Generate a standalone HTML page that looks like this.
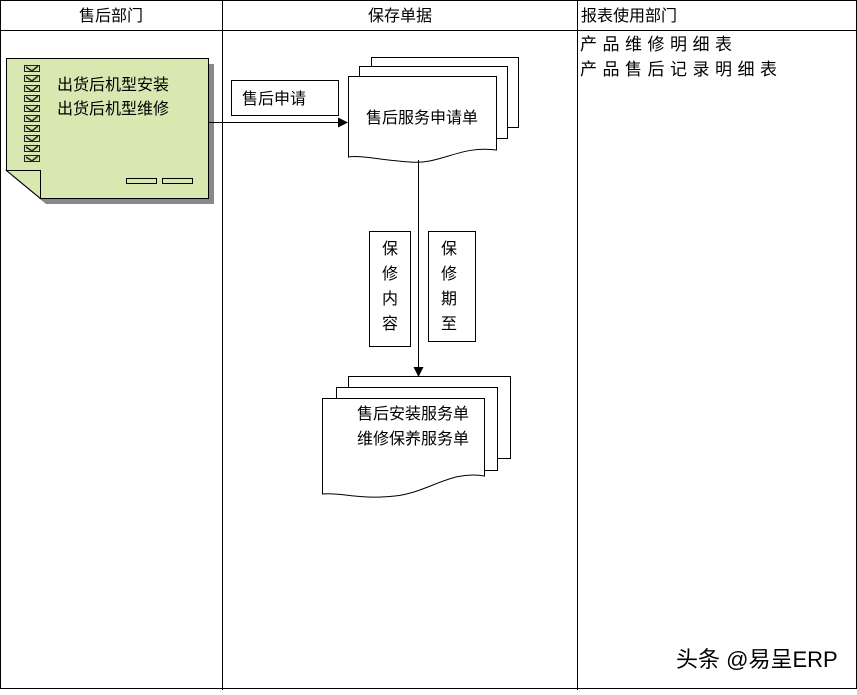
<!DOCTYPE html>
<html><head><meta charset="utf-8"><style>
body{margin:0;background:#fff}
text{font-family:"Liberation Sans","Noto Sans CJK SC",sans-serif;fill:#000}
</style></head><body>
<svg width="857" height="690" viewBox="0 0 857 690" xmlns="http://www.w3.org/2000/svg">
<defs><marker id="a" markerWidth="10" markerHeight="10" refX="9" refY="5" orient="auto" markerUnits="userSpaceOnUse"><path d="M0,0 L10,5 L0,10 z" fill="#000"/></marker>
<g id="c"><rect x="0.5" y="0.5" width="15" height="6" fill="#cfe0a8" stroke="#222"/><path d="M2,2 L8,6 L14,1" stroke="#222" stroke-width="1.5" fill="none"/></g></defs>
<rect x="0.5" y="0.5" width="856" height="688" fill="none" stroke="#000"/>
<line x1="0" y1="30.5" x2="857" y2="30.5" stroke="#000"/>
<line x1="222.5" y1="0" x2="222.5" y2="690" stroke="#000"/>
<line x1="577.5" y1="0" x2="577.5" y2="690" stroke="#000"/>
<text x="111" y="21" font-size="16" text-anchor="middle">售后部门</text>
<text x="400" y="21" font-size="16" text-anchor="middle">保存单据</text>
<text x="581" y="21" font-size="16">报表使用部门</text>
<text x="580" y="50" font-size="17" letter-spacing="5.5">产品维修明细表</text>
<text x="580" y="75" font-size="17" letter-spacing="5.5">产品售后记录明细表</text>
<!-- note card -->
<path d="M12,64 L214,64 L214,204 L46,204 L12,176 z" fill="#888"/>
<path d="M6.5,58.5 L208.5,58.5 L208.5,198.5 L40.5,198.5 L6.5,170.5 z" fill="#d8e8b0" stroke="#000"/>
<path d="M6.5,170.5 L40.5,170.5 L40.5,198.5 z" fill="#d8e8b0" stroke="#000"/>
<use href="#c" x="24" y="65"/><use href="#c" x="24" y="75"/><use href="#c" x="24" y="85"/><use href="#c" x="24" y="95"/><use href="#c" x="24" y="105"/><use href="#c" x="24" y="115"/><use href="#c" x="24" y="125"/><use href="#c" x="24" y="135"/><use href="#c" x="24" y="145"/><use href="#c" x="24" y="155"/>
<rect x="126.5" y="178.5" width="30" height="5" fill="none" stroke="#000"/>
<rect x="162.5" y="178.5" width="30" height="5" fill="none" stroke="#000"/>
<text x="57" y="90" font-size="16">出货后机型安装</text>
<text x="57" y="114" font-size="16">出货后机型维修</text>
<!-- arrow -->
<line x1="208" y1="122.5" x2="347" y2="122.5" stroke="#000" marker-end="url(#a)"/>
<rect x="231.5" y="80.5" width="107" height="35" fill="#fff" stroke="#000"/>
<text x="242" y="104" font-size="16">售后申请</text>
<!-- upper docs -->
<rect x="371.5" y="57.5" width="147" height="70" fill="#fff" stroke="#000"/>
<rect x="359.5" y="66.5" width="148" height="72" fill="#fff" stroke="#000"/>
<path d="M348.5,76.5 L496.5,76.5 L496.5,150 C460,145 440,165 410,162 C380,160 360,155 348.5,157 z" fill="#fff" stroke="#000"/>
<text x="422" y="123" font-size="16" text-anchor="middle">售后服务申请单</text>
<!-- vertical -->
<line x1="418.5" y1="160" x2="418.5" y2="376" stroke="#000" marker-end="url(#a)"/>
<rect x="369.5" y="231.5" width="41" height="115" fill="#fff" stroke="#000"/>
<rect x="428.5" y="231.5" width="47" height="110" fill="#fff" stroke="#000"/>
<g font-size="16" text-anchor="middle">
<text x="390" y="254">保</text><text x="390" y="279">修</text><text x="390" y="304">内</text><text x="390" y="329">容</text>
<text x="449" y="254">保</text><text x="449" y="279">修</text><text x="449" y="304">期</text><text x="449" y="329">至</text>
</g>
<!-- lower docs -->
<rect x="348.5" y="376.5" width="162" height="82" fill="#fff" stroke="#000"/>
<rect x="336.5" y="387.5" width="161" height="83" fill="#fff" stroke="#000"/>
<path d="M322.5,398.5 L484.5,398.5 L484.5,476 C450,470 430,492 395,496 C360,500 340,492 322.5,494 z" fill="#fff" stroke="#000"/>
<text x="413" y="419" font-size="16" text-anchor="middle">售后安装服务单</text>
<text x="413" y="444" font-size="16" text-anchor="middle">维修保养服务单</text>
<text x="676" y="667" font-size="22" fill="#333">头条 @易呈ERP</text>
</svg>
</body></html>
